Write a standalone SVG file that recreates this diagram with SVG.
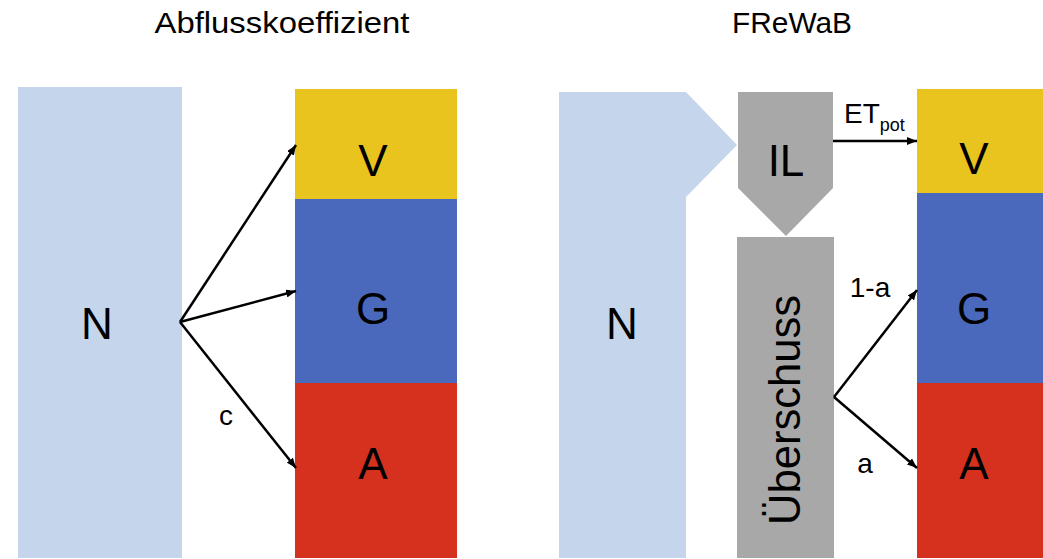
<svg xmlns="http://www.w3.org/2000/svg" width="1043" height="559" viewBox="0 0 1043 559">
<defs>
<marker id="ah" viewBox="0 0 10 8" refX="10" refY="4" markerWidth="10" markerHeight="8" markerUnits="userSpaceOnUse" orient="auto">
<path d="M0,0 L10,4 L0,8 Z" fill="#000"/>
</marker>
</defs>
<style>
text{font-family:"Liberation Sans",Arial,sans-serif;fill:#000;}
.title{font-size:30px;text-anchor:middle;}
.big{font-size:44px;text-anchor:middle;dominant-baseline:central;}
.lab{font-size:28px;}
.n{fill:#C5D5EC;}
.v{fill:#EAC41E;}
.g{fill:#4A68BC;}
.a{fill:#D6301E;}
.gray{fill:#A9A8A8;}
.conn line{stroke:#000;stroke-width:2.5;marker-end:url(#ah);}
</style>
<rect width="1043" height="559" fill="#fff"/>
<text class="title" x="282" y="33" textLength="255" lengthAdjust="spacingAndGlyphs">Abflusskoeffizient</text>
<text class="title" x="792" y="33" textLength="120" lengthAdjust="spacingAndGlyphs">FReWaB</text>

<g id="left-N"><rect class="n" x="18" y="87" width="164" height="471"/><text class="big" x="97" y="323">N</text></g>
<g id="left-V"><rect class="v" x="295" y="89" width="162" height="110"/><text class="big" x="373" y="160">V</text></g>
<g id="left-G"><rect class="g" x="295" y="199" width="162" height="184"/><text class="big" x="373" y="308">G</text></g>
<g id="left-A"><rect class="a" x="295" y="383" width="162" height="175"/><text class="big" x="373" y="463">A</text></g>

<g id="right-N"><polygon class="n" points="559,92 686,92 737,145 686,197 686,558 559,558"/><text class="big" x="622" y="323">N</text></g>
<g id="IL"><polygon class="gray" points="738,92 833,92 833,188 786,236 738,188"/><text class="big" x="786" y="160">IL</text></g>
<g id="Ueberschuss"><rect class="gray" x="737" y="237" width="97" height="321"/><text class="big" x="0" y="0" transform="translate(784,410) rotate(-90)" textLength="230" lengthAdjust="spacingAndGlyphs">Überschuss</text></g>
<g id="right-V"><rect class="v" x="917" y="89" width="126" height="104"/><text class="big" x="974" y="158">V</text></g>
<g id="right-G"><rect class="g" x="917" y="193" width="126" height="190"/><text class="big" x="974" y="308">G</text></g>
<g id="right-A"><rect class="a" x="917" y="383" width="126" height="175"/><text class="big" x="974" y="463">A</text></g>

<g id="connectors" class="conn">
<line x1="180" y1="322" x2="296" y2="145"/>
<line x1="180" y1="322" x2="296" y2="291"/>
<line x1="180" y1="322" x2="296" y2="468"/>
<line x1="833" y1="141" x2="917" y2="141"/>
<line x1="834" y1="397" x2="917" y2="290"/>
<line x1="834" y1="397" x2="917" y2="468"/>
</g>
<g id="labels">
<text class="lab" x="226" y="425" text-anchor="middle">c</text>
<text class="lab" x="844" y="123" font-size="26">ET<tspan font-size="18" dy="8">pot</tspan></text>
<text class="lab" x="870" y="297" text-anchor="middle">1-a</text>
<text class="lab" x="865" y="473" text-anchor="middle">a</text>
</g>
</svg>
